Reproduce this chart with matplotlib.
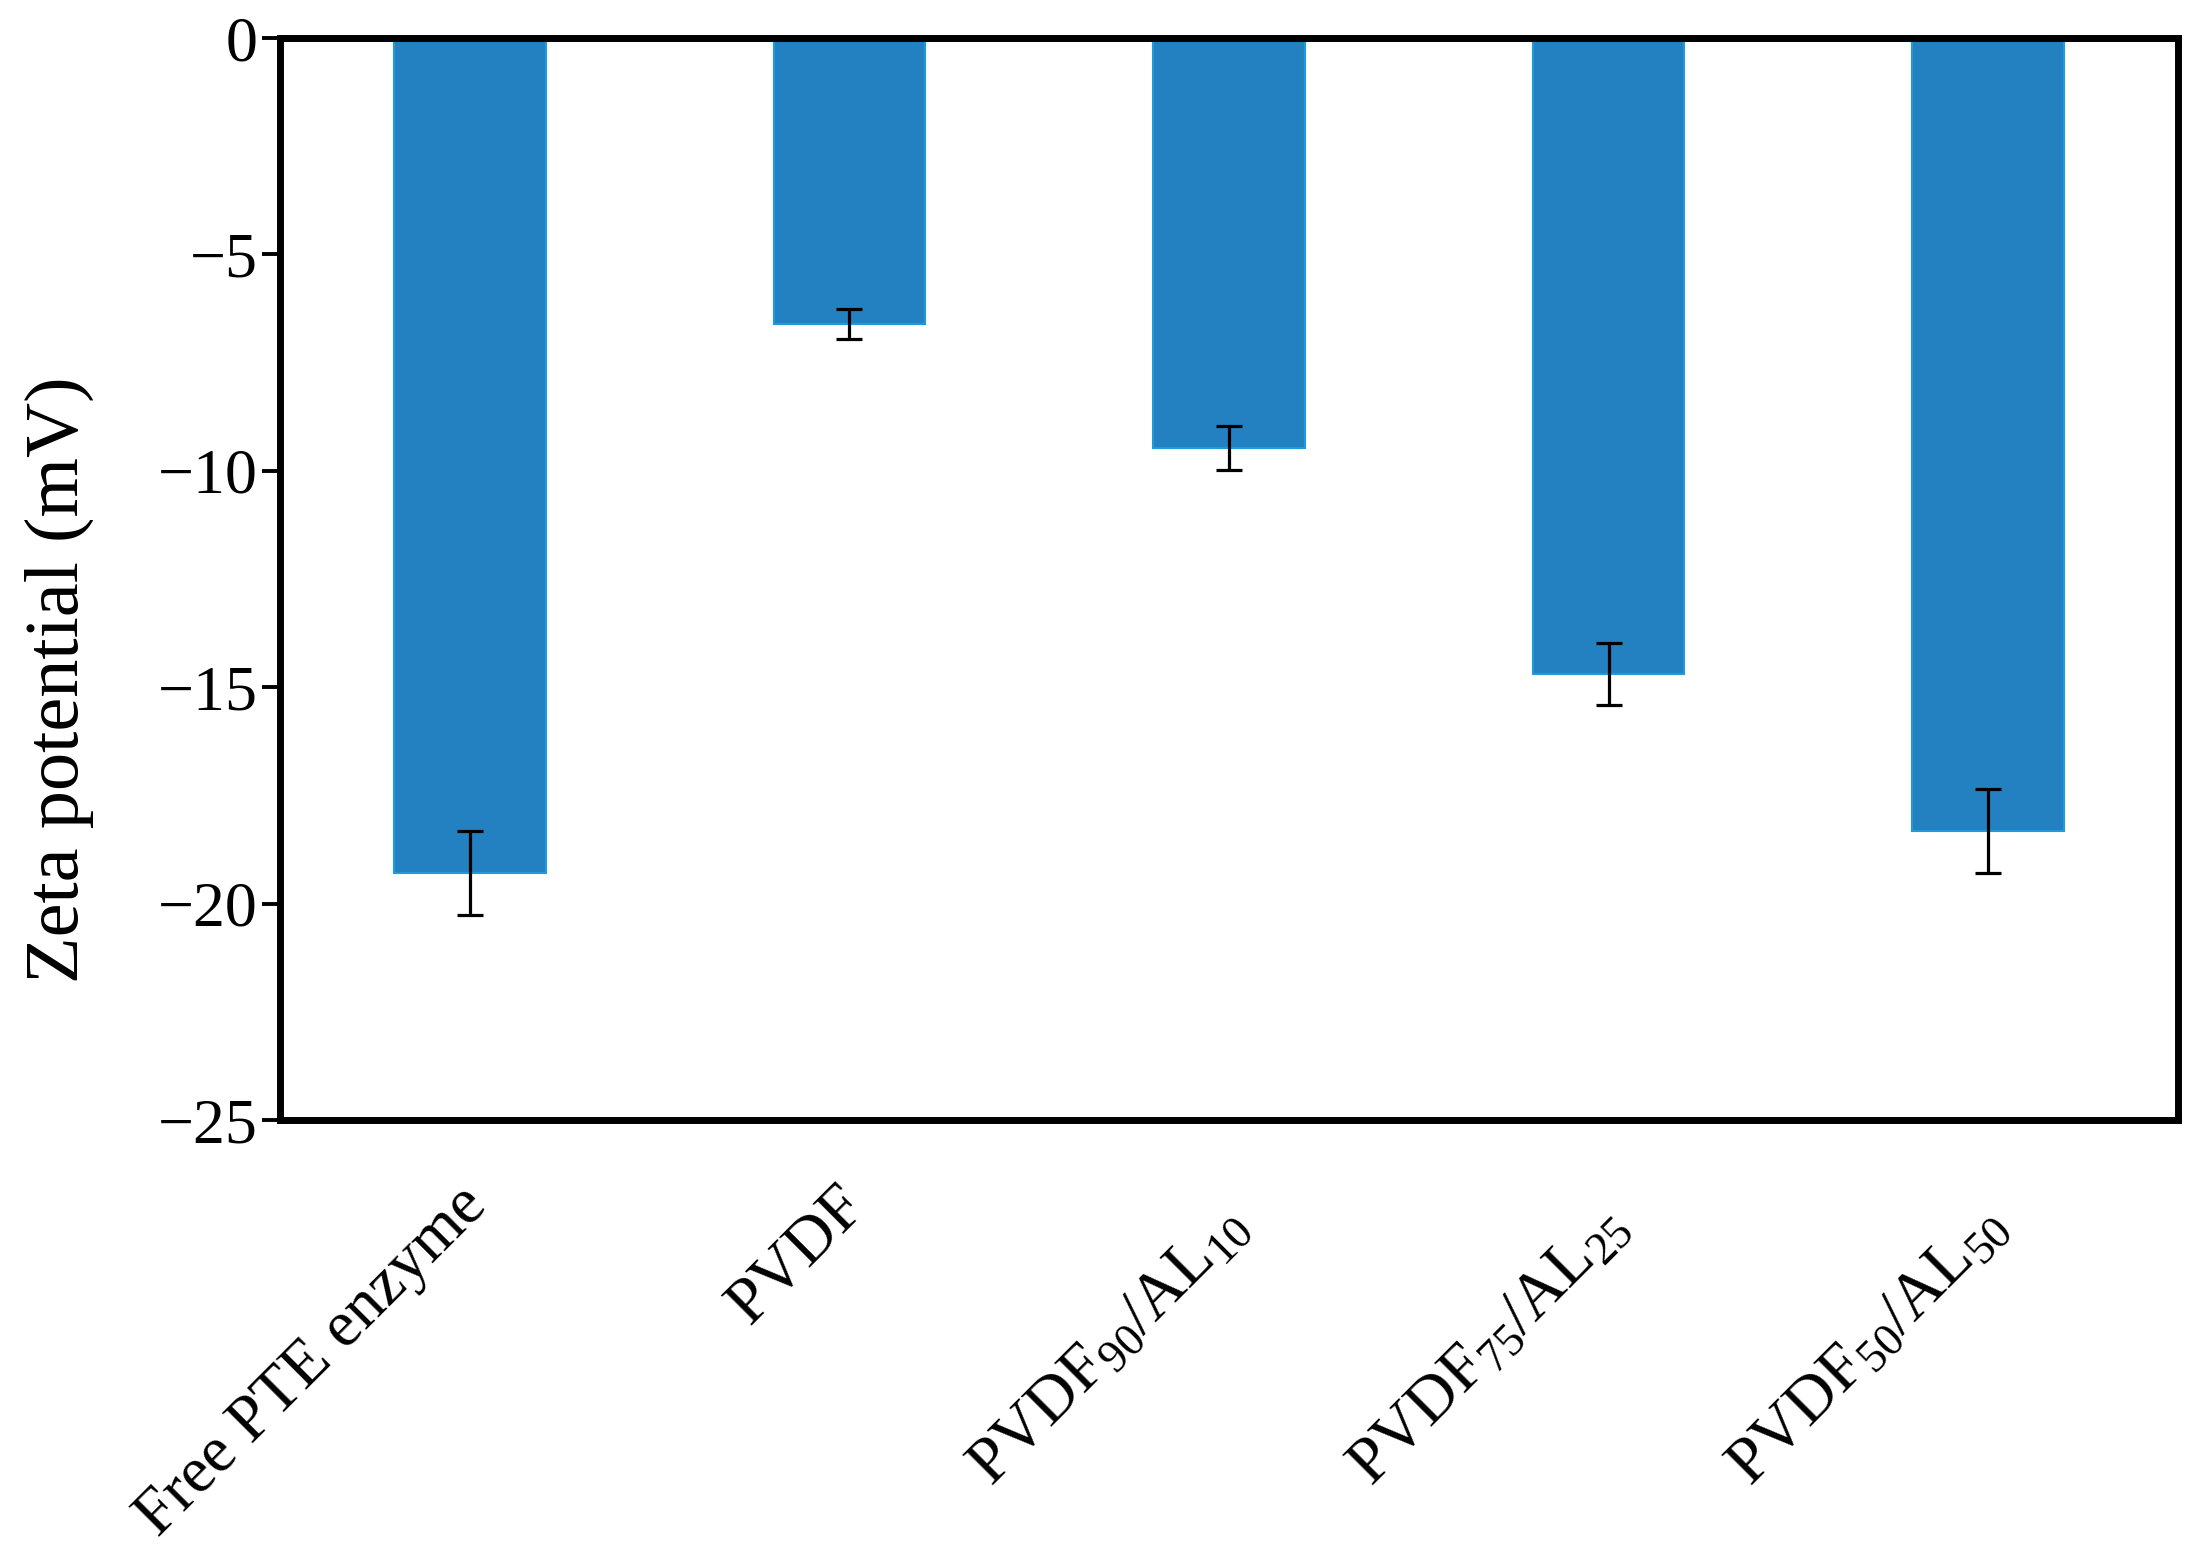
import matplotlib
matplotlib.use("Agg")
import matplotlib.pyplot as plt
from matplotlib.transforms import ScaledTranslation

categories = ["Free PTE enzyme", "PVDF",
              r"PVDF$_{90}$/AL$_{10}$", r"PVDF$_{75}$/AL$_{25}$", r"PVDF$_{50}$/AL$_{50}$"]
values = [-19.3, -6.6, -9.47, -14.69, -18.33]
errors = [0.97, 0.35, 0.5, 0.72, 0.97]
yticks = [0, -5, -10, -15, -20, -25]
ytick_labels = ["0", "\u22125", "\u221210", "\u221215", "\u221220", "\u221225"]

FONT = 'Liberation Serif'
plt.rcParams['font.family'] = FONT
plt.rcParams['mathtext.fontset'] = 'custom'
plt.rcParams['mathtext.rm'] = FONT
plt.rcParams['mathtext.it'] = FONT
plt.rcParams['mathtext.default'] = 'regular'

fig = plt.figure(figsize=(21.88, 15.6), dpi=100)
ax = fig.add_axes([0.128, 0.282, 0.8674, 0.6936])

x = list(range(len(categories)))
ax.bar(x, values, width=0.4, color='#2481C1', edgecolor='#1E9BDB', linewidth=1.5, zorder=2)
ax.errorbar(x, values, yerr=errors, fmt='none', ecolor='black', elinewidth=2.3,
            capsize=9.5, capthick=2.3, zorder=3)

ax.set_xlim(-0.5, len(categories) - 0.5)
ax.set_ylim(-25, 0)
ax.set_yticks(yticks)
ax.set_yticklabels(ytick_labels, fontfamily=FONT)
ax.set_xticks(x)
ax.set_xticklabels(categories, rotation=45, ha='right', va='top', rotation_mode='anchor',
                   fontfamily=FONT)
ax.tick_params(axis='x', length=0, labelsize=47, pad=40)
ax.tick_params(axis='y', direction='out', length=13, width=2.8, labelsize=46, pad=3)
for s in ax.spines.values():
    s.set_linewidth(5)
ax.set_ylabel("Zeta potential (mV)", fontsize=55, fontfamily=FONT)
ax.yaxis.set_label_coords(-0.098, 0.407)

for lab in ax.get_xticklabels():
    if '$' in lab.get_text():
        off = ScaledTranslation(-8 / 72, -15 / 72, fig.dpi_scale_trans)
    else:
        off = ScaledTranslation(-10 / 72, 0, fig.dpi_scale_trans)
    lab.set_transform(lab.get_transform() + off)

fig.savefig("out.png", dpi=100)
